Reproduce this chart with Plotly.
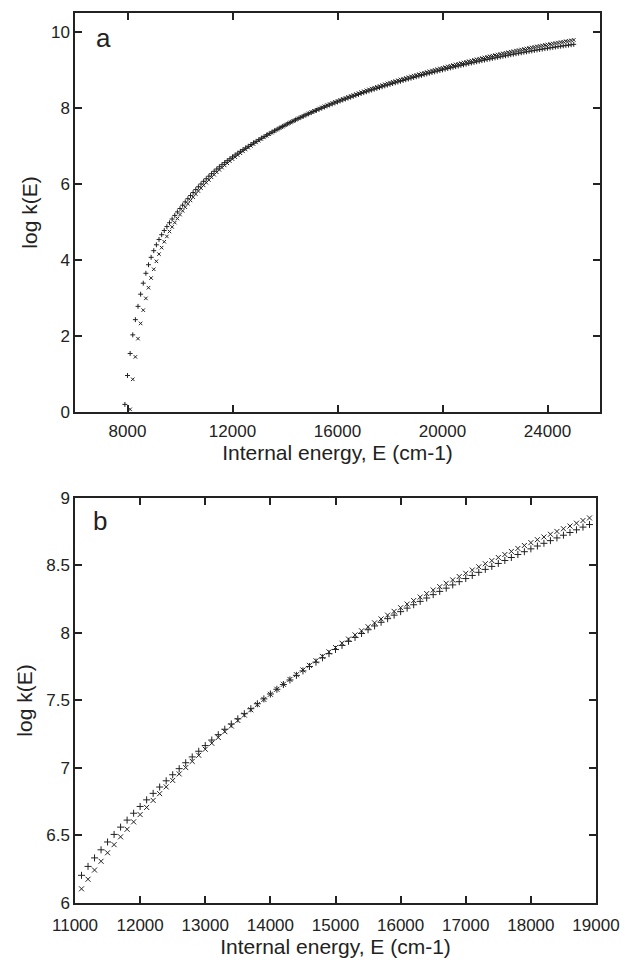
import numpy as np
import plotly.graph_objects as go

# Internal energy grid (cm-1), 100 cm-1 steps
energy_plus = np.arange(7900, 25001, 100)
energy_cross = np.arange(8100, 25001, 100)

# log k(E) for the "+" series
logk_plus = [
    0.20, 0.96, 1.54, 2.03, 2.43, 2.78, 3.10, 3.39, 3.65, 3.875,
    4.07, 4.245, 4.40, 4.54, 4.665, 4.775, 4.879, 4.980, 5.078, 5.173,
    5.265, 5.355, 5.443, 5.529, 5.613, 5.695, 5.775, 5.853, 5.927, 6.000,
    6.070, 6.138, 6.205, 6.271, 6.334, 6.394, 6.452, 6.508, 6.562, 6.614,
    6.665, 6.715, 6.764, 6.812, 6.859, 6.905, 6.950, 6.995, 7.039, 7.082,
    7.124, 7.166, 7.207, 7.247, 7.287, 7.326, 7.364, 7.402, 7.439, 7.476,
    7.512, 7.548, 7.583, 7.618, 7.652, 7.686, 7.719, 7.752, 7.784, 7.816,
    7.847, 7.878, 7.908, 7.938, 7.967, 7.996, 8.024, 8.052, 8.079, 8.106,
    8.132, 8.158, 8.184, 8.209, 8.234, 8.259, 8.284, 8.308, 8.332, 8.356,
    8.380, 8.403, 8.426, 8.449, 8.471, 8.493, 8.515, 8.537, 8.559, 8.581,
    8.602, 8.623, 8.644, 8.664, 8.684, 8.704, 8.724, 8.744, 8.764, 8.784,
    8.803, 8.822, 8.841, 8.860, 8.878, 8.896, 8.915, 8.933, 8.951, 8.968,
    8.986, 9.003, 9.021, 9.038, 9.055, 9.072, 9.088, 9.105, 9.121, 9.137,
    9.153, 9.169, 9.185, 9.200, 9.216, 9.231, 9.246, 9.261, 9.276, 9.290,
    9.305, 9.319, 9.333, 9.347, 9.361, 9.375, 9.388, 9.402, 9.415, 9.428,
    9.441, 9.453, 9.466, 9.478, 9.491, 9.503, 9.515, 9.527, 9.538, 9.550,
    9.561, 9.572, 9.583, 9.594, 9.605, 9.615, 9.626, 9.636, 9.646, 9.656,
    9.665, 9.675,
]

# log k(E) for the "x" series
logk_cross = [
    0.07, 0.86, 1.45, 1.93, 2.33, 2.68, 2.99, 3.27, 3.525, 3.755,
    3.965, 4.155, 4.325, 4.48, 4.62, 4.75, 4.87, 4.984, 5.092, 5.195,
    5.294, 5.389, 5.480, 5.568, 5.653, 5.735, 5.814, 5.891, 5.964, 6.035,
    6.105, 6.176, 6.244, 6.309, 6.372, 6.432, 6.490, 6.546, 6.601, 6.655,
    6.708, 6.760, 6.810, 6.860, 6.908, 6.956, 7.003, 7.049, 7.094, 7.139,
    7.183, 7.226, 7.269, 7.311, 7.352, 7.392, 7.431, 7.470, 7.508, 7.546,
    7.583, 7.620, 7.656, 7.691, 7.726, 7.760, 7.794, 7.827, 7.860, 7.892,
    7.924, 7.955, 7.986, 8.016, 8.046, 8.075, 8.104, 8.132, 8.160, 8.187,
    8.214, 8.240, 8.266, 8.292, 8.318, 8.343, 8.368, 8.393, 8.418, 8.442,
    8.466, 8.490, 8.513, 8.536, 8.559, 8.581, 8.604, 8.626, 8.648, 8.669,
    8.691, 8.711, 8.731, 8.752, 8.772, 8.792, 8.813, 8.833, 8.852, 8.872,
    8.891, 8.910, 8.929, 8.948, 8.967, 8.986, 9.004, 9.023, 9.041, 9.059,
    9.077, 9.095, 9.113, 9.130, 9.148, 9.165, 9.182, 9.199, 9.216, 9.233,
    9.249, 9.266, 9.282, 9.298, 9.315, 9.331, 9.346, 9.362, 9.378, 9.393,
    9.408, 9.423, 9.438, 9.453, 9.468, 9.482, 9.497, 9.511, 9.525, 9.539,
    9.553, 9.567, 9.581, 9.594, 9.608, 9.621, 9.634, 9.647, 9.660, 9.672,
    9.685, 9.697, 9.709, 9.721, 9.733, 9.745, 9.757, 9.768, 9.780, 9.791,
]

# Axis windows and tick labels
a_xrange = [6000, 26000]
a_yrange = [0, 10.5]
a_xticks = [8000, 12000, 16000, 20000, 24000]
a_yticks = [0, 2, 4, 6, 8, 10]

b_xrange = [11000, 19000]
b_yrange = [6, 9]
b_xticks = [11000, 12000, 13000, 14000, 15000, 16000, 17000, 18000, 19000]
b_yticks = [6, 6.5, 7, 7.5, 8, 8.5, 9]
b_ytick_text = ["6", "6.5", "7", "7.5", "8", "8.5", "9"]

x_title = "Internal energy, E (cm-1)"
y_title = "log k(E)"

ink = "#222222"
font_family = "Liberation Sans, Arial, sans-serif"

logk_plus = np.array(logk_plus)
logk_cross = np.array(logk_cross)


def window(e, v, lo, hi):
    keep = (e > lo) & (e < hi)
    return e[keep], v[keep]


fig = go.Figure()

# Panel a: full energy range
for e, v, sym in [(energy_plus, logk_plus, "cross-thin"),
                  (energy_cross, logk_cross, "x-thin")]:
    fig.add_trace(go.Scatter(
        x=e, y=v, mode="markers", xaxis="x", yaxis="y",
        marker=dict(symbol=sym, size=3.5, color=ink,
                    line=dict(width=1, color=ink)),
        showlegend=False, hoverinfo="x+y",
    ))

# Panel b: expanded view
for e, v, sym in [(energy_plus, logk_plus, "cross-thin"),
                  (energy_cross, logk_cross, "x-thin")]:
    be, bv = window(e, v, b_xrange[0], b_xrange[1])
    fig.add_trace(go.Scatter(
        x=be, y=bv, mode="markers", xaxis="x2", yaxis="y2",
        marker=dict(symbol=sym, size=5, color=ink,
                    line=dict(width=1, color=ink)),
        showlegend=False, hoverinfo="x+y",
    ))

axis_common = dict(
    showline=True, linecolor=ink, linewidth=1.5, mirror="ticks",
    ticks="inside", ticklen=7, tickwidth=1.5, tickcolor=ink,
    showgrid=False, zeroline=False, automargin=False,
    tickfont=dict(size=17, color=ink, family=font_family),
    title_font=dict(size=21, color=ink, family=font_family),
)

fig.update_layout(
    width=625, height=960,
    margin=dict(l=75, r=25, t=13, b=57),
    paper_bgcolor="white", plot_bgcolor="white",
    font=dict(family=font_family, color=ink),
    xaxis=dict(domain=[0, 1], anchor="y", range=a_xrange,
               tickvals=a_xticks, ticktext=[str(t) for t in a_xticks],
               ticklabelstandoff=3,
               title=dict(text=x_title, standoff=0), **axis_common),
    yaxis=dict(domain=[0.5517, 1], anchor="x", range=a_yrange,
               tickvals=a_yticks, ticktext=[str(t) for t in a_yticks],
               title=dict(text=y_title, standoff=8), **axis_common),
    xaxis2=dict(domain=[0, 0.9924], anchor="y2", range=b_xrange,
                tickvals=b_xticks, ticktext=[str(t) for t in b_xticks],
                ticklabelstandoff=6,
                title=dict(text=x_title, standoff=4), **axis_common),
    yaxis2=dict(domain=[0, 0.4551], anchor="x2", range=b_yrange,
                tickvals=b_yticks, ticktext=b_ytick_text,
                title=dict(text=y_title, standoff=8), **axis_common),
    annotations=[
        dict(text="a", x=0.037, y=0.991, xref="paper", yref="paper",
             xanchor="left", yanchor="top", showarrow=False,
             font=dict(size=26, color=ink, family=font_family)),
        dict(text="b", x=0.030, y=0.4483, xref="paper", yref="paper",
             xanchor="left", yanchor="top", showarrow=False,
             font=dict(size=26, color=ink, family=font_family)),
    ],
)

fig.write_html("out.html")
